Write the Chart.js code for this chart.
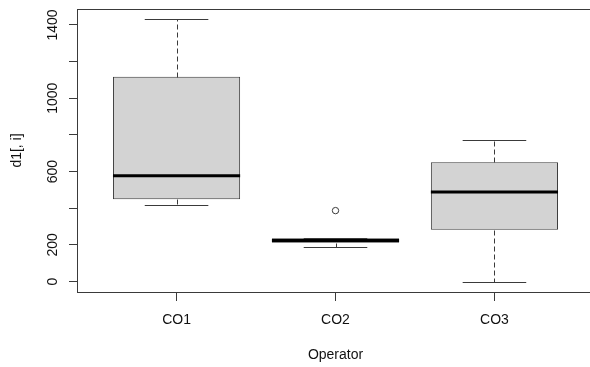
<!DOCTYPE html>
<html>
<head>
<meta charset="utf-8">
<script src="https://cdn.jsdelivr.net/npm/chart.js@4"></script>
<style>
  html, body { margin: 0; padding: 0; overflow: hidden; background: #fff; }
  #wrap { width: 600px; height: 367px; }
</style>
</head>
<body>
<div id="wrap"><canvas id="c" width="600" height="367"></canvas></div>
<script>
// Five-number summaries per operator, plus the points beyond the whiskers
const categories = ['CO1', 'CO2', 'CO3'];
const lowerWhisker = [415, 191, 0];
const lowerQuartile = [449, 211, 282];
const medians = [577, 224, 488];
const upperQuartile = [1117, 236, 651];
const upperWhisker = [1430, 236, 771];
const outlierGroups = ['CO2'];
const outlierValues = [387];

const yTickValues = [0, 200, 400, 600, 800, 1000, 1200, 1400];
const yTickLabels = ['0', '200', '', '600', '', '1000', '', '1400'];

// Axis limits padded by 4% on each side
const dataMin = Math.min(...lowerWhisker, ...outlierValues);
const dataMax = Math.max(...upperWhisker, ...outlierValues);
const yPad = (dataMax - dataMin) * 0.04;
const xPad = categories.length * 0.04;

const lineColor = '#3a3a3a';
const textColor = '#111';
const font = { family: "'Liberation Sans', Arial, sans-serif", size: 14 };
const BOX_HALF = 0.4;
const CAP_HALF = 0.2;

// Whiskers, caps and medians drawn from the summaries through the chart scales
const boxParts = {
  id: 'boxParts',
  afterDatasetsDraw(chart) {
    const ctx = chart.ctx;
    const xs = chart.scales.x, ys = chart.scales.y;
    ctx.save();
    categories.forEach((c, i) => {
      const pos = i + 1;
      const xc = Math.round(xs.getPixelForValue(pos)) + 0.5;
      const capL = xs.getPixelForValue(pos - CAP_HALF);
      const capR = xs.getPixelForValue(pos + CAP_HALF);
      const y = v => Math.round(ys.getPixelForValue(v)) + 0.5;
      ctx.strokeStyle = lineColor;
      ctx.lineWidth = 1;
      // dashed whiskers
      ctx.setLineDash([5, 3]);
      ctx.beginPath();
      ctx.moveTo(xc, y(upperQuartile[i])); ctx.lineTo(xc, y(upperWhisker[i]));
      ctx.moveTo(xc, y(lowerQuartile[i])); ctx.lineTo(xc, y(lowerWhisker[i]));
      ctx.stroke();
      // caps
      ctx.setLineDash([]);
      ctx.beginPath();
      ctx.moveTo(capL, y(upperWhisker[i])); ctx.lineTo(capR, y(upperWhisker[i]));
      ctx.moveTo(capL, y(lowerWhisker[i])); ctx.lineTo(capR, y(lowerWhisker[i]));
      ctx.stroke();
      // median
      ctx.strokeStyle = '#000';
      ctx.lineWidth = 3;
      ctx.beginPath();
      ctx.moveTo(xs.getPixelForValue(pos - BOX_HALF), ys.getPixelForValue(medians[i]));
      ctx.lineTo(xs.getPixelForValue(pos + BOX_HALF), ys.getPixelForValue(medians[i]));
      ctx.stroke();
    });
    // plot frame
    const a = chart.chartArea;
    ctx.strokeStyle = lineColor;
    ctx.lineWidth = 1;
    ctx.strokeRect(a.left - 0.5, a.top + 0.5, a.right - a.left, a.bottom - a.top);
    ctx.restore();
  }
};

new Chart(document.getElementById('c'), {
  type: 'bar',
  data: {
    datasets: [
      {
        type: 'bar',
        data: categories.map((c, i) => ({ x: i + 1, y: [lowerQuartile[i], upperQuartile[i]] })),
        backgroundColor: '#d3d3d3',
        borderColor: lineColor,
        borderWidth: 1,
        borderSkipped: false,
        barPercentage: BOX_HALF * 2,
        categoryPercentage: 1
      },
      {
        type: 'scatter',
        data: outlierGroups.map((g, i) => ({ x: categories.indexOf(g) + 1, y: outlierValues[i] })),
        pointStyle: 'circle',
        pointRadius: 3.2,
        borderColor: lineColor,
        backgroundColor: 'rgba(0,0,0,0)',
        borderWidth: 1
      }
    ]
  },
  options: {
    responsive: false,
    animation: false,
    devicePixelRatio: 1,
    layout: { padding: { top: 9, right: 7, left: 0, bottom: 0 } },
    plugins: { legend: { display: false }, tooltip: { enabled: false } },
    scales: {
      x: {
        type: 'linear',
        offset: false,
        min: 0.5 - xPad,
        max: categories.length + 0.5 + xPad,
        afterBuildTicks: s => { s.ticks = categories.map((c, i) => ({ value: i + 1 })); },
        afterFit: s => { s.height = 75; },
        ticks: {
          callback: v => categories[v - 1],
          autoSkip: false, maxRotation: 0, minRotation: 0,
          font, color: textColor, padding: 10.5
        },
        grid: { offset: false, drawOnChartArea: false, drawTicks: true, tickLength: 9, color: lineColor },
        border: { display: false },
        title: { display: true, text: 'Operator', font, color: textColor, padding: { top: 0, bottom: 3 } }
      },
      y: {
        type: 'linear',
        min: dataMin - yPad,
        max: dataMax + yPad,
        afterBuildTicks: s => { s.ticks = yTickValues.map(v => ({ value: v })); },
        afterFit: s => { s.width = 78; },
        ticks: {
          callback: (v, i) => yTickLabels[i],
          autoSkip: false, minRotation: 90, maxRotation: 90, crossAlign: 'center',
          font, color: textColor, padding: 0.5
        },
        grid: { drawOnChartArea: false, drawTicks: true, tickLength: 9, color: lineColor },
        border: { display: false },
        title: { display: true, text: 'd1[, i]', font, color: textColor, padding: { top: 8.5, bottom: 0 } }
      }
    }
  },
  plugins: [boxParts]
});
</script>
</body>
</html>
